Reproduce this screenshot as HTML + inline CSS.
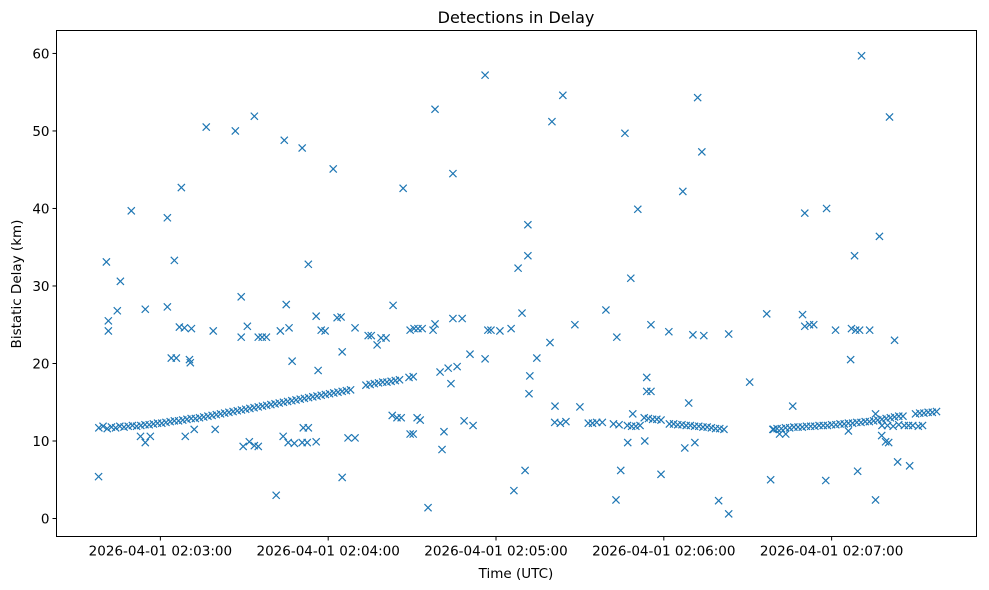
<!DOCTYPE html>
<html><head><meta charset="utf-8"><style>
body{margin:0;background:#fff;}
svg{display:block;font-family:"DejaVu Sans","Liberation Sans",sans-serif;}
</style></head><body>
<svg id="chart" width="989" height="590" viewBox="0 0 989 590">
<rect x="0" y="0" width="989" height="590" fill="#fff"/>
<text x="516" y="23" font-size="16" text-anchor="middle" fill="#000">Detections in Delay</text>
<text x="516" y="578" font-size="13.5" text-anchor="middle" fill="#000">Time (UTC)</text>
<text x="21" y="284" font-size="13.5" text-anchor="middle" fill="#000" transform="rotate(-90 21 284)">Bistatic Delay (km)</text>
<g id="ticks"></g>
<g id="marks"></g>
<rect x="56.5" y="30.5" width="920" height="506" fill="none" stroke="#000" stroke-width="1"/>
</svg>
<script>
// seconds after 02:02:00
const xTickValues = [60,120,180,240,300];
const xTickLabels = ["2026-04-01 02:03:00","2026-04-01 02:04:00","2026-04-01 02:05:00","2026-04-01 02:06:00","2026-04-01 02:07:00"];
const yTickValues = [0,10,20,30,40,50,60];
const yTickLabels = ["0","10","20","30","40","50","60"];
const bandTimes = [38,39.5,41,42.5,44,45.5,47,48.5,50,51.5,53,54.5,56,57.5,59,60.5,62,63.5,65,66.5,68,69.5,71,72.5,74,75.5,77,78.5,80,81.5,83,84.5,86,87.5,89,90.5,92,93.5,95,96.5,98,99.5,101,102.5,104,105.5,107,108.5,110,111.5,113,114.5,116,117.5,119,120.5,122,123.5,125,126.5,128,
133.5,135,136.5,138,139.5,141,142.5,144,145.5,
201,203,205,213,214.5,216,218,222,224,227,228.5,230,231.5,233,234.5,236,237.5,239,242,243.5,245,246.5,248,249.5,251,252.5,254,255.5,257,258.5,260,261.5,
279,280.5,282,283.5,285,286.5,288,289.5,291,292.5,294,295.5,297,298.5,300,301.5,303,304.5,306,307.5,309,310.5,312,313.5,315,316.5,318,319.5,321,322.5,324,325.5,330,331.5,333,334.5,336,337.5,318,320,322,324,326,327.5,329,331,332.5];
const bandDelays = [11.7,11.9,11.6,11.8,11.7,11.9,11.8,11.9,12.0,11.9,12.0,12.1,12.1,12.2,12.3,12.3,12.4,12.5,12.6,12.6,12.7,12.8,12.9,12.9,13.0,13.1,13.2,13.3,13.4,13.5,13.6,13.7,13.8,13.9,14.0,14.1,14.2,14.3,14.4,14.5,14.6,14.7,14.8,14.9,15.0,15.1,15.2,15.3,15.4,15.5,15.6,15.7,15.8,15.9,16.0,16.1,16.2,16.3,16.4,16.5,16.6,
17.2,17.3,17.4,17.5,17.6,17.6,17.7,17.8,17.9,
12.4,12.3,12.5,12.3,12.3,12.4,12.4,12.2,12.1,12.0,11.9,11.9,12.0,13.0,12.9,12.8,12.8,12.7,12.2,12.2,12.1,12.1,12.0,12.0,11.9,11.9,11.8,11.8,11.7,11.6,11.6,11.5,
11.5,11.6,11.6,11.7,11.7,11.8,11.8,11.8,11.9,11.9,11.9,12.0,12.0,12.0,12.1,12.1,12.2,12.2,12.3,12.3,12.4,12.4,12.5,12.5,12.6,12.7,12.8,12.9,13.0,13.1,13.2,13.2,13.5,13.6,13.6,13.7,13.7,13.8,12.0,12.0,11.9,12.1,12.0,12.0,12.0,11.9,12.0];
const outlierTimes = [37.9,40.7,41.4,41.4,44.6,45.7,49.6,54.6,52.9,54.6,56.4,62.5,62.5,65,67.5,63.9,65.7,66.8,68.6,71.1,70.4,70.7,68.9,72.1,76.4,78.9,79.6,86.8,88.9,88.9,91.1,93.6,95,96.4,97.9,89.6,91.8,93.6,95,101.4,102.9,104.3,105,106,107.1,103.9,105.7,107.9,110.7,112.9,111.1,112.9,110.7,112.5,115.7,115.7,116.4,117.5,118.9,121.8,123.2,124.6,125,127.1,129.6,125,129.6,134.3,135.4,137.5,138.9,140.7,143.2,146.8,148.9,150.4,149.3,150.4,142.9,144.6,146.1,151.8,152.9,149.3,150.7,152.1,153.6,155.7,157.5,158.2,158.2,160,160.7,161.4,162.9,163.9,164.6,164.6,166.1,167.9,168.6,170.7,171.8,176.1,176.1,177.1,178.2,181.4,185.4,186.4,187.9,189.3,190.4,191.4,191.4,191.8,192.1,194.6,199.3,200,201.1,203.9,208.2,210,219.3,223.2,222.9,224.6,226.1,227.1,228.2,228.9,230.7,233.2,233.9,233.9,235.4,235.4,239,241.8,246.8,247.5,248.9,250.4,251.1,252.1,253.6,254.3,259.6,263.2,263.2,270.7,276.8,278.2,279.3,281.4,283.6,286.1,289.6,290.4,290.4,292.1,293.6,298.2,297.9,301.4,306.8,307.1,308.6,310,308.2,309.3,310.7,313.6,315.7,317.1,317.9,319.3,320.4,320.7,322.5,323.6,327.9,315.7,306];
const outlierDelays = [5.4,33.1,25.5,24.2,26.8,30.6,39.7,27.0,10.6,9.8,10.6,38.8,27.3,33.3,42.7,20.7,20.7,24.7,24.6,24.5,20.5,20.1,10.6,11.5,50.5,24.2,11.5,50.0,28.6,23.4,24.8,51.9,23.4,23.4,23.4,9.3,9.9,9.4,9.3,3.0,24.2,48.8,27.6,24.6,20.3,10.6,9.8,9.7,47.8,32.8,11.7,11.7,9.8,9.8,26.1,9.9,19.1,24.3,24.2,45.1,25.9,26.0,21.5,10.4,10.4,5.3,24.6,23.6,23.6,22.4,23.3,23.3,27.5,42.6,18.2,18.3,10.9,10.9,13.3,13.0,13.0,13.0,12.7,24.3,24.5,24.5,24.5,1.4,24.3,25.1,52.8,18.9,8.9,11.2,19.4,17.4,44.5,25.8,19.6,25.8,12.6,21.2,12.0,57.2,20.6,24.3,24.3,24.2,24.5,3.6,32.3,26.5,6.2,37.9,33.9,16.1,18.4,20.7,22.7,51.2,14.5,54.6,25.0,14.4,26.9,23.4,2.4,6.2,49.7,9.8,31.0,13.5,39.9,10.0,18.2,16.4,16.4,25.0,5.7,24.1,42.2,9.1,14.9,23.7,9.8,54.3,47.3,23.6,2.3,0.6,23.8,17.6,26.4,5.0,11.5,10.9,10.9,14.5,26.3,39.4,24.8,25.0,25.0,40.0,4.9,24.3,20.5,24.5,24.3,24.3,33.9,6.1,59.7,24.3,2.4,36.4,10.7,9.9,9.8,51.8,23.0,7.3,6.8,13.5,11.3];

const X0=56.5, X1=976.5, Y0=536.5, Y1=30.5;
const TMIN=22.86, TMAX=351.8, VMIN=-2.32, VMAX=62.96;
function xs(t){return X0+(t-TMIN)/(TMAX-TMIN)*(X1-X0);}
function ys(v){return Y0-(v-VMIN)/(VMAX-VMIN)*(Y0-Y1);}
const NS="http://www.w3.org/2000/svg";
const ticks=document.getElementById('ticks');
const marks=document.getElementById('marks');
function mk(tag,attrs,parent){const e=document.createElementNS(NS,tag);for(const k in attrs)e.setAttribute(k,attrs[k]);parent.appendChild(e);return e;}
xTickValues.forEach((t,i)=>{
  const x=xs(t);
  const l=mk('line',{x1:x,x2:x,y1:Y0,y2:Y0+4,stroke:'#000','stroke-width':1},ticks);
  
  
  const tx=mk('text',{x:x,y:Y0+19,'font-size':13.5,'text-anchor':'middle',fill:'#000'},ticks);
  tx.textContent=xTickLabels[i];
  
  
});
yTickValues.forEach((v,i)=>{
  const y=ys(v);
  const l=mk('line',{x1:X0-4,x2:X0,y1:y,y2:y,stroke:'#000','stroke-width':1},ticks);
  
  
  const tx=mk('text',{x:X0-7,y:y+5,'font-size':13.5,'text-anchor':'end',fill:'#000'},ticks);
  tx.textContent=yTickLabels[i];
  
  
});
function drawX(t,v){
  const x=xs(t),y=ys(v),r=3.6;
  const p=mk('path',{d:`M${x-r},${y-r}L${x+r},${y+r}M${x-r},${y+r}L${x+r},${y-r}`,stroke:'#1f77b4','stroke-width':1.2,fill:'none'},marks);
  
  
}
bandTimes.forEach((t,i)=>drawX(t,bandDelays[i]));
outlierTimes.forEach((t,i)=>drawX(t,outlierDelays[i]));
</script>
</body></html>
